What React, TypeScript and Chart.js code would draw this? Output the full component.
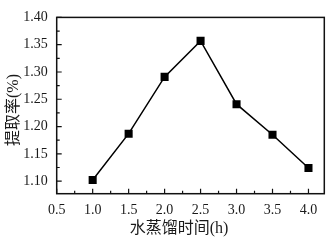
import React, { useEffect, useRef } from "react";
import { Chart, registerables } from "chart.js";

Chart.register(...registerables);

const hours = [1.0, 1.5, 2.0, 2.5, 3.0, 3.5, 4.0];
const yieldPct = [1.102, 1.187, 1.291, 1.357, 1.241, 1.185, 1.124];
const xTicks = [0.5, 1.0, 1.5, 2.0, 2.5, 3.0, 3.5, 4.0];
const yTicks = [1.1, 1.15, 1.2, 1.25, 1.3, 1.35, 1.4];
const xTitle = "水蒸馏时间(h)";
const yTitle = "提取率(%)";

const FONT = "'Liberation Serif', 'Noto Sans CJK SC', serif";

const framePlugin = {
  id: "frameTicks",
  afterDraw(chart: any) {
    const { ctx, chartArea } = chart;
    const { left, right, top, bottom } = chartArea;
    const xs = chart.scales.x;
    const ys = chart.scales.y;
    ctx.save();
    ctx.strokeStyle = "#111";
    ctx.lineWidth = 1.5;
    ctx.strokeRect(left, top, right - left, bottom - top);
    ctx.lineWidth = 1.2;
    ctx.beginPath();
    xTicks.forEach((v) => {
      const px = xs.getPixelForValue(v);
      ctx.moveTo(px, bottom);
      ctx.lineTo(px, bottom - 5);
      const mv = v + 0.25;
      if (mv <= xs.max) {
        const mp = xs.getPixelForValue(mv);
        ctx.moveTo(mp, bottom);
        ctx.lineTo(mp, bottom - 3);
      }
    });
    yTicks.forEach((v) => {
      const py = ys.getPixelForValue(v);
      ctx.moveTo(left, py);
      ctx.lineTo(left + 5, py);
      const mv = v + 0.025;
      if (mv <= ys.max) {
        const mp = ys.getPixelForValue(mv);
        ctx.moveTo(left, mp);
        ctx.lineTo(left + 3, mp);
      }
    });
    ctx.stroke();

    // axis titles
    ctx.fillStyle = "#1a1a1a";
    ctx.font = "16px " + FONT;
    ctx.textAlign = "center";
    ctx.textBaseline = "middle";
    ctx.fillText(xTitle, 179, 229);
    ctx.translate(14, 110);
    ctx.rotate(-Math.PI / 2);
    ctx.fillText(yTitle, 0, 0);
    ctx.restore();
  },
};

export default function App() {
  const ref = useRef<HTMLCanvasElement>(null);
  useEffect(() => {
    document.body.style.margin = "0";
    const chart = new Chart(ref.current!, {
      type: "line",
      data: {
        datasets: [
          {
            data: hours.map((h, i) => ({ x: h, y: yieldPct[i] })),
            borderColor: "#000",
            borderWidth: 1.5,
            backgroundColor: "#000",
            pointStyle: "rect",
            pointRadius: 5.7,
            pointBorderWidth: 0,
            pointBackgroundColor: "#000",
            tension: 0,
          },
        ],
      },
      options: {
        animation: false,
        responsive: false,
        maintainAspectRatio: false,
        layout: { padding: { top: 12, right: 2.7, left: 0, bottom: 0 } },
        plugins: { legend: { display: false }, tooltip: { enabled: false } },
        scales: {
          x: {
            type: "linear",
            min: 0.5,
            max: 4.22,
            grid: { display: false, drawTicks: false },
            border: { display: false },
            afterBuildTicks: (s: any) => {
              s.ticks = xTicks.map((v) => ({ value: v }));
            },
            afterFit: (s: any) => {
              s.height = 47.3;
            },
            ticks: {
              padding: 8,
              color: "#1a1a1a",
              font: { family: FONT, size: 14 },
              callback: (v: any) => Number(v).toFixed(1),
              maxRotation: 0,
            },
          },
          y: {
            type: "linear",
            min: 1.077,
            max: 1.4,
            grid: { display: false, drawTicks: false },
            border: { display: false },
            afterBuildTicks: (s: any) => {
              s.ticks = yTicks.map((v) => ({ value: v }));
            },
            afterFit: (s: any) => {
              s.width = 56.7;
            },
            ticks: {
              padding: 9,
              color: "#1a1a1a",
              font: { family: FONT, size: 14 },
              callback: (v: any) => Number(v).toFixed(2),
            },
          },
        },
      },
      plugins: [framePlugin],
    });
    return () => chart.destroy();
  }, []);
  return (
    <div style={{ position: "absolute", left: 0, top: 0, width: 330, height: 241 }}>
      <canvas ref={ref} width={330} height={241} style={{ display: "block" }} />
    </div>
  );
}
